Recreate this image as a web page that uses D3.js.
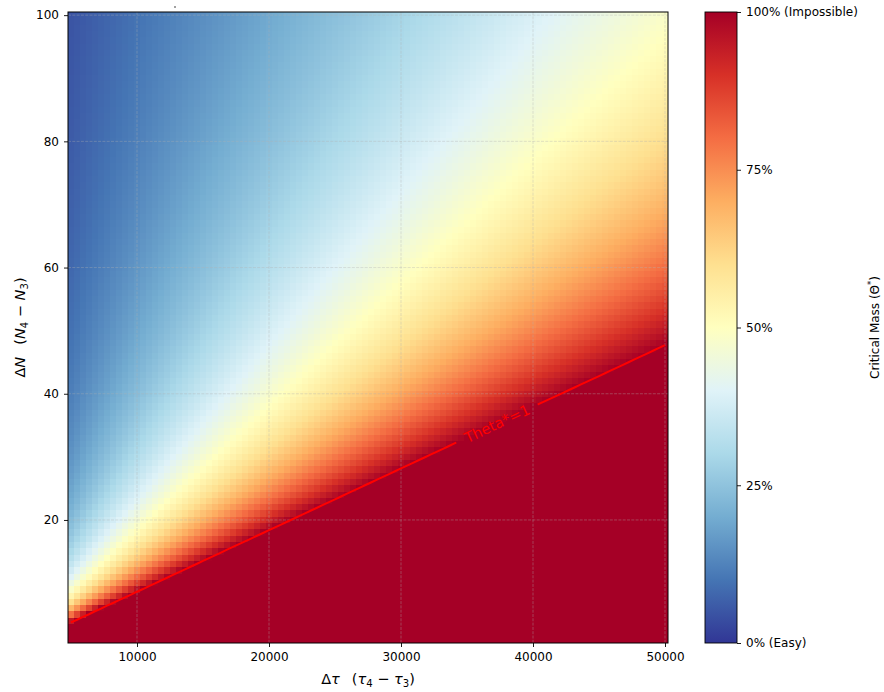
<!DOCTYPE html>
<html><head><meta charset="utf-8">
<script src="https://cdn.jsdelivr.net/npm/d3@7"></script>
<style>body{margin:0;background:#fff} svg{display:block} text{font-family:"DejaVu Sans",sans-serif;fill:#000}</style>
</head><body><svg id="chart" width="884" height="692"></svg>
<script>
// ---- data ----
const tauRange = [5000, 50000];          // centres of first / last Δτ column
const tauCount = 100;                    // number of Δτ columns
const nValues = d3.range(1, 101);        // ΔN rows 1..100
// Θ* read at a coarse grid: columns = gridTau, rows = gridN
const gridTau = [5000, 10000, 15000, 20000, 25000, 30000, 35000, 40000, 45000, 50000];
const gridN = [1, 2, 3, 5, 7, 10, 15, 20, 30, 40, 60, 80, 100];
const thetaRead = [
  [2.252, 4.505, 6.757, 9.009, 11.26, 13.51, 15.77, 18.02, 20.27, 22.52],
  [1.542, 3.084, 4.625, 6.167, 7.709, 9.251, 10.79, 12.34, 13.88, 15.42],
  [1.172, 2.344, 3.516, 4.688, 5.860, 7.032, 8.204, 9.376, 10.55, 11.72],
  [0.792, 1.584, 2.376, 3.168, 3.961, 4.753, 5.545, 6.337, 7.129, 7.921],
  [0.598, 1.196, 1.795, 2.393, 2.991, 3.589, 4.188, 4.786, 5.384, 5.982],
  [0.438, 0.875, 1.313, 1.750, 2.188, 2.625, 3.063, 3.500, 3.938, 4.376],
  [0.302, 0.605, 0.907, 1.209, 1.511, 1.814, 2.116, 2.418, 2.720, 3.023],
  [0.231, 0.462, 0.693, 0.923, 1.154, 1.385, 1.616, 1.847, 2.078, 2.309],
  [0.157, 0.314, 0.470, 0.627, 0.784, 0.941, 1.098, 1.254, 1.411, 1.568],
  [0.119, 0.237, 0.356, 0.475, 0.594, 0.712, 0.831, 0.950, 1.068, 1.187],
  [0.080, 0.160, 0.240, 0.320, 0.400, 0.479, 0.559, 0.639, 0.719, 0.799],
  [0.060, 0.120, 0.181, 0.241, 0.301, 0.361, 0.421, 0.482, 0.542, 0.602],
  [0.048, 0.097, 0.145, 0.193, 0.242, 0.290, 0.338, 0.387, 0.435, 0.483]
];
const xTicks = [10000, 20000, 30000, 40000, 50000];
const yTicks = [20, 40, 60, 80, 100];
const cbarTicks = [0, 0.25, 0.5, 0.75, 1];
const cbarLabels = ["0% (Easy)", "25%", "50%", "75%", "100% (Impossible)"];
const cmapColors = ["#313695","#4575b4","#74add1","#abd9e9","#e0f3f8","#ffffbf","#fee090","#fdae61","#f46d43","#d73027","#a50026"];
const contourLevel = 1;
const contourLabel = "Theta*=1";
const contourLabelTau = 37200;

// ---- derived grid ----
const tauStep = (tauRange[1] - tauRange[0]) / (tauCount - 1);
const tauValues = d3.range(tauCount).map(i => tauRange[0] + i * tauStep);

function theta(tau, n) {
  let j = d3.bisectRight(gridTau, tau) - 1;
  j = Math.max(0, Math.min(gridTau.length - 2, j));
  const t = (tau - gridTau[j]) / (gridTau[j + 1] - gridTau[j]);
  let i = d3.bisectRight(gridN, n) - 1;
  i = Math.max(0, Math.min(gridN.length - 2, i));
  const s = (n - gridN[i]) / (gridN[i + 1] - gridN[i]);
  const v0 = thetaRead[i][j] + t * (thetaRead[i][j + 1] - thetaRead[i][j]);
  const v1 = thetaRead[i + 1][j] + t * (thetaRead[i + 1][j + 1] - thetaRead[i + 1][j]);
  const inv = (1 / v0) + s * ((1 / v1) - (1 / v0));
  return 1 / inv;
}

const cells = [];
tauValues.forEach(tau => nValues.forEach(n => cells.push({tau, n, v: theta(tau, n)})));

// ---- layout ----
const svg = d3.select("#chart");
const L = 68, R = 668, T = 12, B = 643;
const x = d3.scaleLinear().domain([tauRange[0] - tauStep / 2, tauRange[1] + tauStep / 2]).range([L, R]);
const y = d3.scaleLinear().domain([0.5, 100.5]).range([B, T]);
const color = d3.scaleLinear().domain(d3.range(11).map(i => i / 10)).range(cmapColors).interpolate(d3.interpolateRgb).clamp(true);

svg.append("g").attr("shape-rendering", "crispEdges").selectAll("rect").data(cells).join("rect")
  .attr("x", d => Math.round(x(d.tau - tauStep / 2)))
  .attr("y", d => Math.round(y(d.n + 0.5)))
  .attr("width", d => Math.round(x(d.tau + tauStep / 2)) - Math.round(x(d.tau - tauStep / 2)))
  .attr("height", d => Math.round(y(d.n - 0.5)) - Math.round(y(d.n + 0.5)))
  .attr("fill", d => color(Math.min(d.v, 1)));

// grid
const grid = svg.append("g").attr("stroke", "#b0b0b0").attr("stroke-opacity", 0.45)
  .attr("stroke-width", 0.8).attr("stroke-dasharray", "3,1.3");
grid.selectAll(".gx").data(xTicks).join("line")
  .attr("x1", d => x(d)).attr("x2", d => x(d)).attr("y1", T).attr("y2", B);
grid.selectAll(".gy").data(yTicks).join("line")
  .attr("x1", L).attr("x2", R).attr("y1", d => y(d)).attr("y2", d => y(d));

// contour Θ*=1
const contourPts = [];
tauValues.forEach(tau => {
  for (let k = 0; k < nValues.length - 1; k++) {
    const a = theta(tau, nValues[k]) - contourLevel, b = theta(tau, nValues[k + 1]) - contourLevel;
    if (a >= 0 && b < 0) {
      contourPts.push([tau, nValues[k] + a / (a - b)]);
      break;
    }
  }
});
let li = d3.minIndex(contourPts, p => Math.abs(p[0] - contourLabelTau));
const lp = contourPts[li];
const p0 = contourPts[Math.max(0, li - 3)], p1 = contourPts[Math.min(contourPts.length - 1, li + 3)];
const ang = Math.atan2(y(p1[1]) - y(p0[1]), x(p1[0]) - x(p0[0])) * 180 / Math.PI;
const lx = x(lp[0]), ly = y(lp[1]);

const defs = svg.append("defs");
const mask = defs.append("mask").attr("id", "gap").attr("maskUnits", "userSpaceOnUse")
  .attr("x", 0).attr("y", 0).attr("width", 884).attr("height", 692);
mask.append("rect").attr("x", 0).attr("y", 0).attr("width", 884).attr("height", 692).attr("fill", "#fff");
mask.append("rect").attr("x", -45).attr("y", -12).attr("width", 90).attr("height", 24).attr("fill", "#000")
  .attr("transform", `translate(${lx},${ly}) rotate(${ang})`);

svg.append("path").datum(contourPts)
  .attr("d", d3.line().x(d => x(d[0])).y(d => y(d[1])))
  .attr("fill", "none").attr("stroke", "#ff0000").attr("stroke-width", 2).attr("mask", "url(#gap)");
svg.append("text").attr("transform", `translate(${lx},${ly}) rotate(${ang})`)
  .attr("text-anchor", "middle").attr("dy", "0.36em").style("font-size", "14.5px").style("fill", "#ff0000")
  .text(contourLabel);

// frame
svg.append("rect").attr("x", L).attr("y", T).attr("width", R - L).attr("height", B - T)
  .attr("fill", "none").attr("stroke", "#000").attr("stroke-width", 1);

// axes
const xAxis = svg.append("g").attr("transform", `translate(0,${B})`)
  .call(d3.axisBottom(x).tickValues(xTicks).tickFormat(d3.format("d")).tickSize(4).tickPadding(5));
const yAxis = svg.append("g").attr("transform", `translate(${L},0)`)
  .call(d3.axisLeft(y).tickValues(yTicks).tickFormat(d3.format("d")).tickSize(4).tickPadding(5));
[xAxis, yAxis].forEach(g => {
  g.select(".domain").remove();
  g.selectAll("text").style("font-size", "12px").style("font-family", "DejaVu Sans").attr("fill", "#000");
  g.selectAll("line").attr("stroke", "#000").attr("stroke-width", 0.9);
});

// tiny mark at top
svg.append("rect").attr("x", 174).attr("y", 6.5).attr("width", 2).attr("height", 1).attr("fill", "#444");

// math label helper
function mathLabel(sel, parts, fs) {
  parts.forEach(p => {
    const ts = sel.append("tspan").text(p.t);
    if (p.i) ts.style("font-style", "italic");
    if (p.sub) { ts.style("font-size", (fs * 0.7) + "px").attr("dy", fs * 0.22); }
    if (p.back) ts.attr("dy", -fs * 0.22);
    if (p.dx) ts.attr("dx", p.dx);
    if (p.sup) { ts.style("font-size", (fs * 0.7) + "px").attr("dy", -fs * 0.38); }
  });
}
const fsLab = 14.5;
const xl = svg.append("text").attr("x", 368).attr("y", 683.5).attr("text-anchor", "middle").style("font-size", fsLab + "px");
mathLabel(xl, [{t:"Δ"},{t:"τ",i:1},{t:"(",dx:12},{t:"τ",i:1},{t:"4",sub:1},{t:" − ",back:1},{t:"τ",i:1},{t:"3",sub:1},{t:")",back:1}], fsLab);
const yl = svg.append("text").attr("transform", "translate(25,327.5) rotate(-90)").attr("text-anchor", "middle").style("font-size", fsLab + "px");
mathLabel(yl, [{t:"Δ"},{t:"N",i:1},{t:"(",dx:12},{t:"N",i:1},{t:"4",sub:1},{t:" − ",back:1},{t:"N",i:1},{t:"3",sub:1},{t:")",back:1}], fsLab);

// colorbar
const cbL = 705, cbR = 737;
const cy = d3.scaleLinear().domain([0, 1]).range([B, T]);
const grad = defs.append("linearGradient").attr("id", "cb").attr("x1", 0).attr("y1", 1).attr("x2", 0).attr("y2", 0);
cmapColors.forEach((c, i) => grad.append("stop").attr("offset", i / 10).attr("stop-color", c));
svg.append("rect").attr("x", cbL).attr("y", T).attr("width", cbR - cbL).attr("height", B - T)
  .attr("fill", "url(#cb)").attr("stroke", "#000").attr("stroke-width", 0.9);
const cAxis = svg.append("g").attr("transform", `translate(${cbR},0)`)
  .call(d3.axisRight(cy).tickValues(cbarTicks).tickFormat((d, i) => cbarLabels[i]).tickSize(4).tickPadding(5));
cAxis.select(".domain").remove();
cAxis.selectAll("text").style("font-size", "12px").style("font-family", "DejaVu Sans").attr("fill", "#000");
cAxis.selectAll("line").attr("stroke", "#000").attr("stroke-width", 0.9);

const fsC = 12;
const cl = svg.append("text").attr("transform", "translate(879,327.5) rotate(-90)").attr("text-anchor", "middle").style("font-size", fsC + "px");
mathLabel(cl, [{t:"Critical Mass ("},{t:"Θ"},{t:"*",sup:1},{t:")",dy:0}], fsC);
cl.selectAll("tspan").filter((d, i) => i === 3).attr("dy", fsC * 0.38);
</script></body></html>
